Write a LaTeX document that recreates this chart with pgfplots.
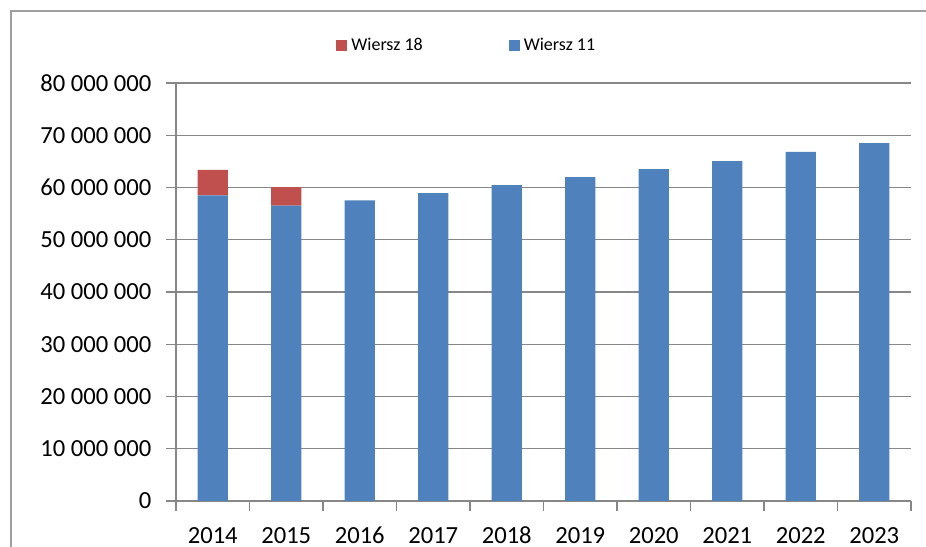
\documentclass[border=0pt]{standalone}
\usepackage{fontspec}
\setmainfont{Carlito}
\usepackage{pgfplots}
\pgfplotsset{compat=1.18}
\definecolor{cblue}{HTML}{4F81BD}
\definecolor{cred}{HTML}{C0504D}
\definecolor{cgrid}{HTML}{878787}
\begin{document}
\begin{tikzpicture}
\useasboundingbox (-88pt,-22.5pt) rectangle (375pt,250.5pt);
\draw[cgrid!80, line width=0.6pt] (-82.5pt,-23pt) -- (-82.5pt,245pt) -- (376pt,245pt);
\begin{axis}[
  at={(0,0)}, anchor=south west,
  scale only axis, width=367.5pt, height=209pt,
  ybar stacked, bar width=0.41,
  xmin=-0.5, xmax=9.5, ymin=0, ymax=80000000,
  scaled y ticks=false,
  axis x line*=bottom, axis y line*=left,
  axis line style={cgrid, line width=0.6pt, -},
  xtick={0,1,2,3,4,5,6,7,8,9},
  xticklabels={2014,2015,2016,2017,2018,2019,2020,2021,2022,2023},
  minor xtick={-0.5,0.5,1.5,2.5,3.5,4.5,5.5,6.5,7.5,8.5,9.5},
  ytick={0,10000000,20000000,30000000,40000000,50000000,60000000,70000000,80000000},
  yticklabels={0,10 000 000,20 000 000,30 000 000,40 000 000,50 000 000,60 000 000,70 000 000,80 000 000},
  tick align=outside, major tick length=5pt, minor tick length=5pt,
  tick style={cgrid, line width=0.6pt},
  every major x tick/.append style={draw=none},
  ymajorgrids, major grid style={cgrid, line width=0.6pt},
  /pgf/number format/assume math mode=true,
  ticklabel style={font=\fontsize{12.3}{14.5}\selectfont},
  xticklabel style={anchor=base, yshift=-16pt},
  yticklabel style={anchor=east, xshift=-3.8pt},
  legend columns=2, reverse legend,
  legend style={draw=none, fill=none, at={(0.397,1.09)}, anchor=center,
    font=\fontsize{9}{11}\selectfont,
    /tikz/every even column/.append style={column sep=41pt}},
  legend image code/.code={\fill[#1] (0pt,-2.75pt) rectangle (5.5pt,2.75pt);},
]
\addplot[fill=cblue, draw=none] coordinates {
(0,58500000) (1,56550000) (2,57550000) (3,58900000) (4,60450000)
(5,62000000) (6,63500000) (7,65050000) (8,66800000) (9,68500000)};
\addlegendentry{Wiersz 11}
\addplot[fill=cred, draw=none] coordinates {
(0,4850000) (1,3500000) (2,0) (3,0) (4,0)
(5,0) (6,0) (7,0) (8,0) (9,0)};
\addlegendentry{Wiersz 18}
\end{axis}
\end{tikzpicture}
\end{document}
